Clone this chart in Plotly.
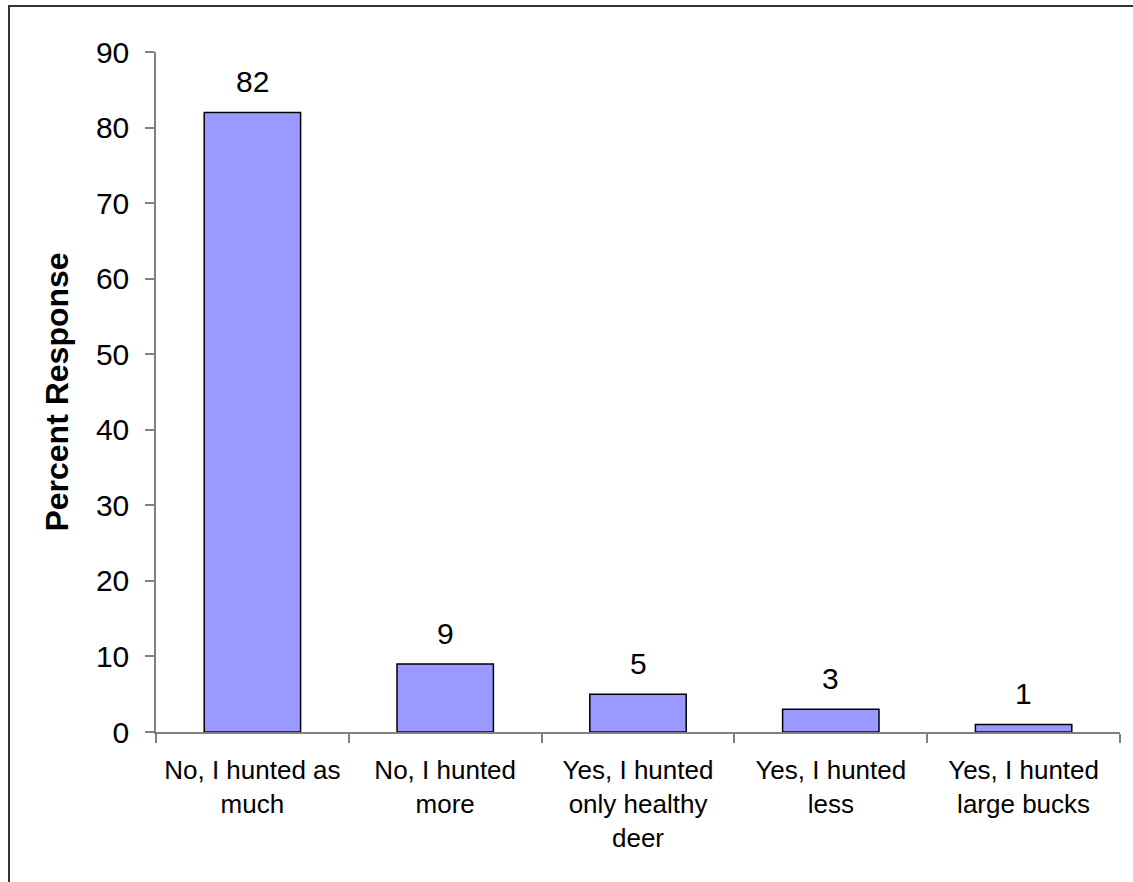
import plotly.graph_objects as go

# Survey responses (percent)
categories = [
    "No, I hunted as<br>much",
    "No, I hunted<br>more",
    "Yes, I hunted<br>only healthy<br>deer",
    "Yes, I hunted<br>less",
    "Yes, I hunted<br>large bucks",
]
percent = [82, 9, 5, 3, 1]
y_ticks = [0, 10, 20, 30, 40, 50, 60, 70, 80, 90]

W, H = 1133, 882
L, R, T, B = 156, 13, 52, 150
FONT = "Liberation Sans, Arial, sans-serif"

fig = go.Figure()
fig.add_trace(go.Bar(
    x=categories,
    y=percent,
    marker=dict(color="#9999FF", line=dict(color="#000000", width=1.5)),
    width=0.5,
    hoverinfo="skip",
))

# value labels above bars
for c, v in zip(categories, percent):
    fig.add_annotation(
        x=c, y=v, text=str(v), showarrow=False,
        yanchor="bottom", yshift=12,
        font=dict(family=FONT, size=30, color="#000000"),
    )

# frame around the chart (top and left edges visible)
pw = W - L - R
ph = H - T - B
fig.add_shape(
    type="rect", xref="paper", yref="paper",
    x0=(9 - L) / pw, x1=(W + 20 - L) / pw,
    y0=-(H + 20 - T - ph) / ph, y1=1 + (T - 6) / ph,
    line=dict(color="#333333", width=2),
    fillcolor="rgba(0,0,0,0)",
)

fig.update_layout(
    width=W, height=H,
    margin=dict(l=L, r=R, t=T, b=B),
    paper_bgcolor="white",
    plot_bgcolor="white",
    showlegend=False,
    font=dict(family=FONT, color="#000000"),
)

fig.update_xaxes(
    showline=True, linecolor="#808080", linewidth=1.5,
    ticks="outside", tickson="boundaries", ticklen=9,
    tickcolor="#808080", tickwidth=1.5,
    tickfont=dict(family=FONT, size=26, color="#000000"),
    ticklabelstandoff=14,
    showgrid=False,
)
fig.update_yaxes(
    range=[0, 90],
    tickvals=y_ticks,
    showline=True, linecolor="#808080", linewidth=1.5,
    ticks="outside", ticklen=9, tickcolor="#808080", tickwidth=1.5,
    tickfont=dict(family=FONT, size=30, color="#000000"),
    ticklabelstandoff=10,
    showgrid=False, zeroline=False,
    title=dict(text="<b>Percent Response</b>", font=dict(family=FONT, size=32, color="#000000"), standoff=18),
)

fig.write_html("out.html")
